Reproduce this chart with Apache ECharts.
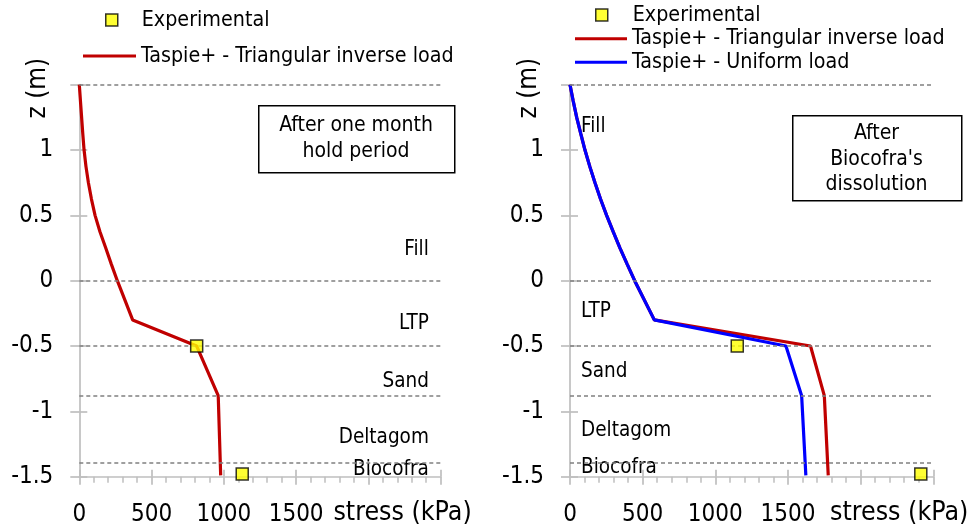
<!DOCTYPE html>
<html>
<head>
<meta charset="utf-8">
<script src="https://cdn.jsdelivr.net/npm/echarts@6/dist/echarts.min.js"></script>
<style>
  html, body { margin: 0; padding: 0; background: #fff; }
  #chart { width: 977px; height: 530px; }
</style>
</head>
<body>
<div id="chart"></div>
<script>
// --- data ---
// left panel: after one month hold period
const leftZ = [1.5, 1.375, 1.25, 1.125, 1.0, 0.875, 0.75, 0.625, 0.5, 0.375, 0.25, 0.125, 0, -0.3, -0.5, -0.88, -1.49]
const leftTriangular = [0, 8, 16, 24, 33, 46, 63, 84, 109, 143, 183, 222, 263, 369, 812, 961, 978]
const leftExpZ = [-0.5, -1.48]
const leftExpStress = [812, 1127]

// right panel: after Biocofra's dissolution
const rightZ = [1.5, 1.375, 1.25, 1.125, 1.0, 0.875, 0.75, 0.625, 0.5, 0.375, 0.25, 0.125, 0, -0.3, -0.5, -0.88, -1.49]
const rightTriangular = [0, 22, 46, 74, 103, 136, 172, 210, 252, 297, 344, 394, 445, 580, 1655, 1750, 1777]
const rightUniform = [0, 22, 46, 74, 103, 136, 172, 210, 252, 297, 344, 394, 445, 580, 1486, 1594, 1623]
const rightExpZ = [-0.5, -1.48]
const rightExpStress = [1151, 2414]

// layer boundaries and names
const boundaries = [1.5, 0, -0.5, -0.88, -1.385]
const layerNames = ['Fill', 'LTP', 'Sand', 'Deltagom', 'Biocofra']
const layerZLeft = [0.24, -0.33, -0.77, -1.2, -1.445]
const layerZRight = [1.18, -0.24, -0.7, -1.145, -1.43]

const xTicks = [0, 500, 1000, 1500]
const yTicks = [-1.5, -1, -0.5, 0, 0.5, 1]

const FONT = "'DejaVu Sans Condensed', 'DejaVu Sans', sans-serif"
const RED = '#c00000'
const BLUE = '#0000ff'
const AXIS = '#bfbfbf'
const DASH = '#808080'

const zip = (xs, ys) => xs.map((x, i) => [x, ys[i]])

const chart = echarts.init(document.getElementById('chart'), null, { renderer: 'canvas' })

function grids() {
  return [
    { left: 79.3, top: 84.7, width: 361.4, height: 392, containLabel: false },
    { left: 570, top: 84.7, width: 363.3, height: 392, containLabel: false },
  ]
}

function xAxes(i, nameGap) {
  return [
    {
      gridIndex: i, type: 'value', min: 0, max: 2500, interval: 500,
      name: 'stress (kPa)', nameLocation: 'end', nameGap, nameMoveOverlap: false,
      nameTextStyle: { fontFamily: FONT, fontSize: 26.5, color: '#000', align: 'right', verticalAlign: 'top', padding: [23, 0, 0, 0] },
      axisLine: { onZero: false, lineStyle: { color: AXIS, width: 1.7 } },
      axisTick: { length: 8, lineStyle: { color: AXIS, width: 1.7 } },
      minorTick: { show: true, splitNumber: 5, length: 6, lineStyle: { color: AXIS, width: 1.5 } },
      axisLabel: {
        fontFamily: FONT, fontSize: 24, color: '#000', margin: 26,
        formatter: v => (xTicks.includes(v) ? String(v) : ''),
      },
      splitLine: { show: false },
    },
    {
      // inner half of the crossing ticks
      gridIndex: i, type: 'value', min: 0, max: 2500, interval: 500, position: 'bottom',
      axisLine: { show: false, onZero: false },
      axisTick: { inside: true, length: 7, lineStyle: { color: AXIS, width: 1.7 } },
      axisLabel: { show: false }, splitLine: { show: false },
    },
  ]
}

function yAxes(i) {
  return [
    {
      gridIndex: i, type: 'value', min: -1.5, max: 1.5, interval: 0.5,
      name: 'z (m)', nameLocation: 'end', nameRotate: 90, nameGap: -3.5, nameMoveOverlap: false,
      nameTextStyle: { fontFamily: FONT, fontSize: 26, color: '#000', align: 'center', verticalAlign: 'bottom', lineHeight: 26, padding: [0, 0, 28, 0] },
      axisLine: { onZero: false, lineStyle: { color: AXIS, width: 1.7 } },
      axisTick: { length: 9, lineStyle: { color: AXIS, width: 1.7 } },
      axisLabel: {
        fontFamily: FONT, fontSize: 24, color: '#000', margin: 26,
        formatter: v => (yTicks.includes(v) ? String(v) : ''),
      },
      splitLine: { show: false },
    },
    {
      gridIndex: i, type: 'value', min: -1.5, max: 1.5, interval: 0.5, position: 'left',
      axisLine: { show: false, onZero: false },
      axisTick: { inside: true, length: 8, lineStyle: { color: AXIS, width: 1.7 } },
      axisLabel: { show: false }, splitLine: { show: false },
    },
  ]
}

function boundarySeries(i) {
  return {
    type: 'line', xAxisIndex: i * 2, yAxisIndex: i * 2, data: [], silent: true,
    markLine: {
      silent: true, symbol: 'none', animation: false,
      label: { show: false },
      lineStyle: { color: DASH, type: [4, 3], width: 1.5, opacity: 1 },
      data: boundaries.map(b => ({ yAxis: b })),
    },
  }
}

function layerLabels(i, zs, xPos, side) {
  return {
    type: 'scatter', xAxisIndex: i * 2, yAxisIndex: i * 2, silent: true,
    symbolSize: 0, itemStyle: { opacity: 1 },
    data: zs.map((z, k) => ({ value: [xPos, z], name: layerNames[k] })),
    label: {
      show: true, position: side, distance: 0, formatter: p => p.name,
      fontFamily: FONT, fontSize: 20.5, color: '#000', opacity: 1,
    },
    z: 1,
  }
}

const expStyle = { color: '#ffff00', borderColor: '#000', borderWidth: 1.5 }
const legendText = { fontFamily: FONT, fontSize: 21.3, color: '#000', lineHeight: 22 }

const option = {
  animation: false,
  backgroundColor: '#fff',
  grid: grids(),
  xAxis: [...xAxes(0, 31), ...xAxes(1, 35)],
  yAxis: [...yAxes(0), ...yAxes(1)],
  legend: [
    {
      left: 105, top: 9, padding: 0, itemWidth: 12, itemHeight: 12,
      data: [{ name: 'Experimental', icon: 'rect' }],
      itemStyle: expStyle,
      textStyle: { ...legendText, padding: [0, 0, 0, 19] },
      selectedMode: false,
    },
    {
      left: 83, top: 45, padding: 0, itemWidth: 53, itemHeight: 3,
      data: [{ name: 'Taspie+ - Triangular inverse load', icon: 'rect' }],
      textStyle: legendText,
      selectedMode: false,
    },
    {
      left: 595, top: 4, padding: 0, itemWidth: 12, itemHeight: 12,
      data: [{ name: 'Experimental', icon: 'rect' }],
      itemStyle: expStyle,
      textStyle: { ...legendText, padding: [0, 0, 0, 20] },
      selectedMode: false,
    },
    {
      left: 575, top: 27.7, padding: 0, itemWidth: 52, itemHeight: 3, orient: 'vertical', itemGap: 1.6,
      data: [
        { name: 'Taspie+ - Triangular inverse load', icon: 'rect' },
        { name: 'Taspie+ - Uniform load', icon: 'rect' },
      ],
      textStyle: legendText,
      selectedMode: false,
    },
  ],
  graphic: [
    { type: 'rect', left: 258, top: 105, shape: { width: 196, height: 67 }, style: { fill: '#fff', stroke: '#000', lineWidth: 1.5 }, z: 10 },
    { type: 'text', x: 356, y: 139, style: { text: 'After one month\nhold period', fontFamily: FONT, fontSize: 21, lineHeight: 26, fill: '#000', align: 'center', verticalAlign: 'middle' }, z: 11 },
    { type: 'rect', left: 792, top: 115, shape: { width: 169, height: 85 }, style: { fill: '#fff', stroke: '#000', lineWidth: 1.5 }, z: 10 },
    { type: 'text', x: 876.5, y: 159.5, style: { text: "After\nBiocofra's\ndissolution", fontFamily: FONT, fontSize: 21, lineHeight: 25.5, fill: '#000', align: 'center', verticalAlign: 'middle' }, z: 11 },
  ],
  series: [
    boundarySeries(0),
    boundarySeries(1),
    layerLabels(0, layerZLeft, 2418, 'left'),
    layerLabels(1, layerZRight, 76, 'right'),
    {
      name: 'Taspie+ - Triangular inverse load', type: 'line', xAxisIndex: 0, yAxisIndex: 0,
      data: zip(leftTriangular, leftZ), symbol: 'none',
      lineStyle: { color: RED, width: 3.2 }, itemStyle: { color: RED }, z: 3,
    },
    {
      name: 'Experimental', type: 'scatter', xAxisIndex: 0, yAxisIndex: 0,
      data: zip(leftExpStress, leftExpZ), symbol: 'rect', symbolSize: 12,
      itemStyle: expStyle, z: 5,
    },
    {
      name: 'Taspie+ - Triangular inverse load', type: 'line', xAxisIndex: 2, yAxisIndex: 2,
      data: zip(rightTriangular, rightZ), symbol: 'none',
      lineStyle: { color: RED, width: 3.2 }, itemStyle: { color: RED }, z: 3,
    },
    {
      name: 'Taspie+ - Uniform load', type: 'line', xAxisIndex: 2, yAxisIndex: 2,
      data: zip(rightUniform, rightZ), symbol: 'none',
      lineStyle: { color: BLUE, width: 3.2 }, itemStyle: { color: BLUE }, z: 4,
    },
    {
      name: 'Experimental', type: 'scatter', xAxisIndex: 2, yAxisIndex: 2,
      data: zip(rightExpStress, rightExpZ), symbol: 'rect', symbolSize: 12,
      itemStyle: expStyle, z: 5,
    },
  ],
}

chart.setOption(option)
</script>
</body>
</html>
